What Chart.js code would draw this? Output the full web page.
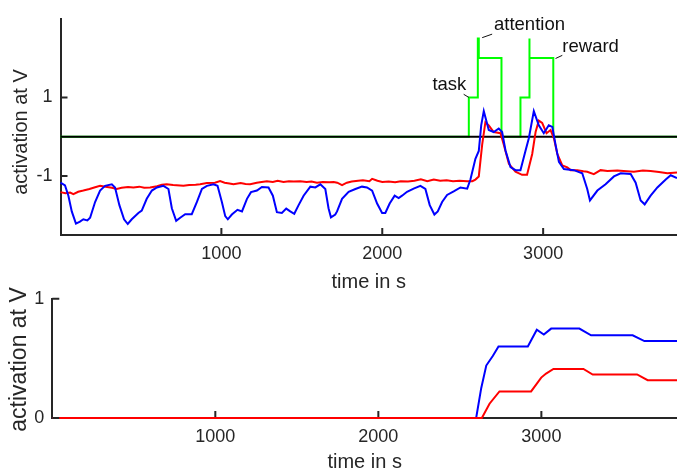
<!DOCTYPE html>
<html>
<head>
<meta charset="utf-8">
<script src="https://cdn.jsdelivr.net/npm/chart.js@4.4.0/dist/chart.umd.min.js"></script>
<style>
body { margin: 0; background: #fff; width: 677px; height: 474px; position: relative; overflow: hidden; }
canvas { position: absolute; left: 0; }
#top { top: 0; }
#bottom { top: 280px; }
</style>
</head>
<body>
<canvas id="top" width="677" height="294"></canvas>
<canvas id="bottom" width="677" height="194"></canvas>
<script>
// time axis (s)
const xMax = 3832;
const xTicks = [1000, 2000, 3000];
const topYTicks = [-1, 1];
const botYTicks = [0, 1];

// top panel: blue trace
const blueTopT = [0, 28, 49, 70, 96, 121, 142, 167, 184, 215, 246, 277, 319, 339, 366, 395, 418, 443, 484, 505,
  536, 568, 599, 640, 671, 692, 719, 744, 775, 816, 848, 879, 910, 951, 976, 1003, 1024, 1040, 1065, 1100,
  1128, 1159, 1184, 1221, 1252, 1293, 1320, 1345, 1376, 1403, 1428, 1453, 1480, 1511, 1553, 1584, 1615, 1646, 1666, 1681,
  1708, 1719, 1750, 1791, 1833, 1874, 1905, 1937, 1968, 1999, 2019, 2046, 2077, 2102, 2123, 2154, 2195, 2237, 2268, 2295,
  2324, 2345, 2372, 2403, 2444, 2486, 2528, 2548, 2579, 2600, 2615, 2631, 2662, 2693, 2724, 2745, 2766, 2797, 2828, 2859,
  2890, 2911, 2942, 2973, 3004, 3035, 3057, 3077, 3098, 3129, 3191, 3243, 3274, 3291, 3337, 3388, 3440, 3482, 3544, 3575,
  3606, 3631, 3668, 3710, 3762, 3793, 3832];
const blueTopV = [-1.17, -1.24, -1.50, -1.90, -2.21, -2.16, -2.10, -2.13, -2.06, -1.66, -1.37, -1.25, -1.21, -1.29, -1.74, -2.10, -2.22, -2.10, -1.94, -1.88,
  -1.58, -1.37, -1.29, -1.25, -1.33, -1.82, -2.14, -2.06, -1.97, -1.97, -1.66, -1.33, -1.25, -1.21, -1.25, -1.66, -2.02, -2.10, -1.98, -1.86,
  -1.90, -1.58, -1.41, -1.37, -1.28, -1.29, -1.50, -1.92, -1.94, -1.83, -1.90, -1.96, -1.74, -1.50, -1.27, -1.29, -1.21, -1.33, -1.82, -2.05,
  -1.98, -1.90, -1.58, -1.40, -1.33, -1.27, -1.29, -1.37, -1.70, -1.94, -1.94, -1.70, -1.50, -1.56, -1.50, -1.40, -1.32, -1.25, -1.33, -1.74,
  -1.98, -1.90, -1.66, -1.48, -1.39, -1.29, -1.32, -1.09, -0.56, -0.36, 0.29, 0.65, 0.17, 0.12, 0.21, 0.12, -0.35, -0.77, -0.85, -0.85,
  -0.36, -0.04, 0.65, 0.29, 0.09, 0.29, 0.25, -0.20, -0.64, -0.82, -0.85, -0.93, -1.33, -1.62, -1.37, -1.21, -1.01, -0.93, -0.95, -1.17,
  -1.62, -1.72, -1.50, -1.29, -1.09, -0.98, -1.05];

// top panel: red trace
const redTopT = [0, 30, 60, 80, 110, 142, 180, 210, 246, 280, 320, 349, 380, 420, 453, 490, 520, 557, 600, 630,
  660, 700, 764, 800, 840, 868, 910, 960, 992, 1020, 1050, 1075, 1120, 1150, 1179, 1220, 1250, 1283, 1320, 1350,
  1386, 1420, 1450, 1490, 1530, 1560, 1594, 1630, 1670, 1698, 1720, 1750, 1780, 1810, 1850, 1880, 1920, 1937, 1970, 2000,
  2040, 2080, 2115, 2160, 2200, 2240, 2280, 2320, 2360, 2400, 2440, 2480, 2528, 2560, 2579, 2600, 2621, 2641, 2662, 2693,
  2735, 2755, 2787, 2828, 2869, 2900, 2932, 2953, 2973, 2994, 3021, 3046, 3067, 3088, 3119, 3150, 3171, 3212, 3250, 3274,
  3315, 3357, 3400, 3461, 3500, 3564, 3620, 3668, 3720, 3772, 3832];
const redTopV = [-1.41, -1.44, -1.42, -1.46, -1.40, -1.37, -1.33, -1.29, -1.25, -1.27, -1.30, -1.33, -1.30, -1.28, -1.29, -1.27, -1.30, -1.29, -1.26, -1.22,
  -1.21, -1.23, -1.25, -1.23, -1.22, -1.21, -1.18, -1.17, -1.13, -1.17, -1.19, -1.21, -1.18, -1.20, -1.21, -1.17, -1.15, -1.13, -1.15, -1.12,
  -1.15, -1.13, -1.14, -1.13, -1.15, -1.14, -1.17, -1.15, -1.16, -1.15, -1.17, -1.23, -1.17, -1.14, -1.12, -1.11, -1.13, -1.07, -1.12, -1.15,
  -1.14, -1.16, -1.13, -1.14, -1.12, -1.08, -1.13, -1.09, -1.12, -1.11, -1.13, -1.12, -1.13, -1.13, -1.09, -1.01, -0.20, 0.37, 0.29, 0.12,
  0.09, -0.20, -0.69, -0.89, -0.97, -0.97, -0.44, 0.12, 0.41, 0.35, 0.09, 0.17, -0.04, -0.44, -0.73, -0.78, -0.85, -0.85, -0.88, -0.89,
  -0.95, -0.85, -0.87, -0.86, -0.87, -0.89, -0.86, -0.87, -0.90, -0.93, -0.91];

// top panel: green cue steps (task / attention / reward)
const cueT = [0, 2538, 2538, 2594, 2594, 2600, 2600, 2741, 2741, 2859, 2859, 2915, 2915, 2915, 3063, 3063, xMax];
const cueV = [0, 0, 1, 1, 2.5, 2.5, 2, 2, 0, 0, 1, 1, 2.5, 2, 2, 0, 0];

// top panel: threshold line
const zeroT = [0, xMax];
const zeroV = [0, 0];

// top panel: labels for the cue steps
const noteText = ['task', 'attention', 'reward'];
const noteT = [2417, 2915, 3295];
const noteV = [1.32, 2.84, 2.29];
const leadT0 = [2506, 2621, 3077];
const leadV0 = [1.08, 2.52, 1.99];
const leadT1 = [2538, 2683, 3119];
const leadV1 = [1.0, 2.61, 2.07];

// bottom panel
const blueBotT = [0, 2600, 2631, 2662, 2702, 2737, 2917, 2972, 3015, 3060, 3233, 3305, 3560, 3632, xMax];
const blueBotV = [0, 0, 0.25, 0.44, 0.52, 0.60, 0.60, 0.74, 0.70, 0.75, 0.75, 0.694, 0.694, 0.645, 0.645];
const redBotT = [0, 2635, 2682, 2743, 2937, 2999, 3029, 3074, 3258, 3315, 3587, 3652, xMax];
const redBotV = [0, 0, 0.12, 0.223, 0.223, 0.339, 0.373, 0.411, 0.411, 0.365, 0.365, 0.317, 0.317];

const axisColor = '#262626';
const fontFamily = '"Liberation Sans", Arial, sans-serif';

function zip(t, v) {
  return t.map((x, i) => ({x: x, y: v[i]}));
}

function line(t, v, color, width) {
  return {
    data: zip(t, v),
    borderColor: color,
    borderWidth: width,
    pointRadius: 0,
    tension: 0,
    fill: false,
    clip: 3
  };
}

// ticks pointing into the plot, plus rotated y title and notes
const extras = {
  id: 'extras',
  afterDraw(chart, args, opts) {
    const ctx = chart.ctx;
    const a = chart.chartArea;
    const x = chart.scales.x, y = chart.scales.y;
    ctx.save();
    ctx.strokeStyle = axisColor;
    ctx.lineWidth = 2;
    ctx.beginPath();
    x.ticks.forEach(t => {
      const px = x.getPixelForValue(t.value);
      ctx.moveTo(px, a.bottom - 1);
      ctx.lineTo(px, a.bottom - 7);
    });
    y.ticks.forEach(t => {
      const py = y.getPixelForValue(t.value);
      ctx.moveTo(a.left, py);
      ctx.lineTo(a.left + 7, py);
    });
    ctx.stroke();

    ctx.fillStyle = axisColor;
    ctx.font = opts.titleSize + 'px ' + fontFamily;
    ctx.textAlign = 'center';
    ctx.textBaseline = 'alphabetic';
    ctx.translate(opts.titleX, opts.titleY);
    ctx.rotate(-Math.PI / 2);
    ctx.fillText('activation at V', 0, 0);
    ctx.restore();

    if (opts.notes) {
      ctx.save();
      ctx.fillStyle = '#111';
      ctx.strokeStyle = '#111';
      ctx.lineWidth = 1;
      ctx.font = '18.5px ' + fontFamily;
      ctx.textAlign = 'center';
      ctx.textBaseline = 'middle';
      noteText.forEach((txt, i) => {
        ctx.fillText(txt, x.getPixelForValue(noteT[i]), y.getPixelForValue(noteV[i]));
        ctx.beginPath();
        ctx.moveTo(x.getPixelForValue(leadT0[i]), y.getPixelForValue(leadV0[i]));
        ctx.lineTo(x.getPixelForValue(leadT1[i]), y.getPixelForValue(leadV1[i]));
        ctx.stroke();
      });
      ctx.restore();
    }
  }
};

function scales(yMin, yMax, yTicks, yWidth, xHeight) {
  return {
    x: {
      type: 'linear',
      min: 0,
      max: xMax,
      afterBuildTicks: s => { s.ticks = xTicks.map(v => ({value: v})); },
      afterFit: s => { s.height = xHeight; },
      grid: {display: false, drawTicks: false},
      border: {display: true, color: axisColor, width: 2, z: -1},
      ticks: {color: axisColor, padding: 8, font: {size: 18, family: fontFamily}, callback: v => String(v)},
      title: {display: true, text: 'time in s', color: axisColor, padding: {top: 0, bottom: 0},
        font: {size: 20, family: fontFamily}}
    },
    y: {
      min: yMin,
      max: yMax,
      afterBuildTicks: s => { s.ticks = yTicks.map(v => ({value: v})); },
      afterFit: s => { s.width = yWidth; },
      grid: {display: false, drawTicks: false},
      border: {display: true, color: axisColor, width: 2, z: -1},
      ticks: {color: axisColor, padding: 8, font: {size: 18, family: fontFamily}, callback: v => String(v)}
    }
  };
}

// Chart.js paints dataset 0 last, so the first entry ends up on top
new Chart(document.getElementById('top'), {
  type: 'line',
  data: {
    datasets: [
      line(blueTopT, blueTopV, '#0000ff', 2),
      line(redTopT, redTopV, '#ff0000', 2),
      line(zeroT, zeroV, '#000000', 1.8),
      line(cueT, cueV, '#00ff00', 2)
    ]
  },
  options: {
    responsive: false,
    animation: false,
    layout: {padding: {top: 7, right: 0, bottom: 0, left: 0}},
    plugins: {
      legend: {display: false},
      tooltip: {enabled: false},
      extras: {titleX: 26.5, titleY: 132, titleSize: 20, notes: true}
    },
    scales: scales(-2.5, 3, topYTicks, 60.5, 59)
  },
  plugins: [extras]
});

new Chart(document.getElementById('bottom'), {
  type: 'line',
  data: {
    datasets: [
      line(redBotT, redBotV, '#ff0000', 2),
      line(blueBotT, blueBotV, '#0000ff', 2)
    ]
  },
  options: {
    responsive: false,
    animation: false,
    layout: {padding: {top: 14, right: 0, bottom: 0, left: 0}},
    plugins: {
      legend: {display: false},
      tooltip: {enabled: false},
      extras: {titleX: 25.5, titleY: 79.5, titleSize: 23, notes: false}
    },
    scales: scales(0, 1, botYTicks, 52.3, 56)
  },
  plugins: [extras]
});
</script>
</body>
</html>
